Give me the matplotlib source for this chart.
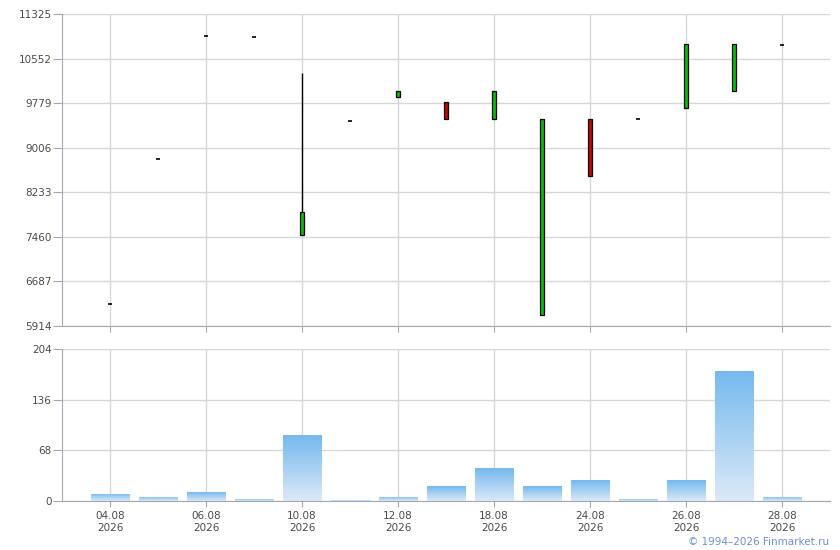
import numpy as np
import matplotlib
matplotlib.use('Agg')
import matplotlib.pyplot as plt
from matplotlib.colors import LinearSegmentedColormap

# торговые сессии (подписи только у каждой второй)
dates = ['04.08', '05.08', '06.08', '07.08', '10.08', '11.08', '12.08', '14.08',
         '18.08', '20.08', '24.08', '25.08', '26.08', '27.08', '28.08']
year = '2026'

opens = [6296, 8805, 10938, 10921, 7488, 9464, 9891, 9794,
         9499, 6100, 9499, 9499, 9690, 9984, 10782]
highs = [6296, 8805, 10938, 10921, 10302, 9464, 9984, 9794,
         9984, 9499, 9499, 9499, 10800, 10800, 10782]
lows = [6296, 8805, 10938, 10921, 7488, 9464, 9891, 9499,
        9499, 6100, 8511, 9499, 9690, 9984, 10782]
closes = [6296, 8805, 10938, 10921, 7892, 9464, 9984, 9499,
          9984, 9499, 8511, 9499, 10800, 10800, 10782]
volumes = [10, 6, 12, 3, 88, 1.5, 6, 20, 44, 20, 28, 3, 28, 175, 6]

price_ticks = [5914, 6687, 7460, 8233, 9006, 9779, 10552, 11325]
vol_ticks = [0, 68, 136, 204]

grid_c = '#d3d7db'
spine_c = '#a4a8b0'
text_c = '#4a4a4a'

fig = plt.figure(figsize=(8.4, 5.5), dpi=100)
ax1 = fig.add_axes([62 / 840, 1 - 326 / 550, 768 / 840, 312 / 550])
ax2 = fig.add_axes([62 / 840, 1 - 501 / 550, 768 / 840, 152 / 550])

x = np.arange(len(dates))

for ax in (ax1, ax2):
    ax.set_xlim(-1, len(dates))
    for s in ('top', 'right'):
        ax.spines[s].set_visible(False)
    for s in ('left', 'bottom'):
        ax.spines[s].set_color(spine_c)
    ax.set_xticks(x[::2])
    ax.grid(True, color=grid_c, linewidth=1)
    ax.set_axisbelow(True)
    ax.tick_params(axis='x', colors=spine_c, length=4, labelcolor=text_c, labelsize=7.5)
    ax.tick_params(axis='y', colors=spine_c, length=6.5, pad=1, labelcolor=text_c, labelsize=7.5)

# свечи
w = 0.07
for i in range(len(dates)):
    o, h, l, c = opens[i], highs[i], lows[i], closes[i]
    if h > max(o, c):
        ax1.vlines(x[i], max(o, c), h, color='black', linewidth=1, zorder=3)
    if l < min(o, c):
        ax1.vlines(x[i], l, min(o, c), color='black', linewidth=1, zorder=3)
    if o == c:
        ax1.hlines(o, x[i] - 0.045, x[i] + 0.045, color='black', linewidth=1.2, zorder=3)
    else:
        col = '#00c400' if c > o else '#d00000'
        ax1.bar(x[i], abs(c - o), bottom=min(o, c), width=w, color=col,
                edgecolor='black', linewidth=0.9, zorder=4)

ax1.set_ylim(price_ticks[0], price_ticks[-1])
ax1.set_yticks(price_ticks)
ax1.set_xticklabels([])

# объёмы с градиентом
cmap = LinearSegmentedColormap.from_list('vol', ['#dce9f7', '#74b9ef'])
grad = np.linspace(0, 1, 256).reshape(-1, 1)
bars = ax2.bar(x, volumes, width=0.8, color='none', zorder=2)
for b in bars:
    x0, y0 = b.get_x(), b.get_y()
    im = ax2.imshow(grad, cmap=cmap, aspect='auto', origin='lower',
                    extent=(x0, x0 + b.get_width(), y0, y0 + b.get_height()), zorder=2)
    im.set_clip_path(b)

ax2.set_xlim(-1, len(dates))
ax2.set_ylim(0, 204)
ax2.set_yticks(vol_ticks)
ax2.set_xticklabels([d + '\n' + year for d in dates[::2]], linespacing=1.25)

fig.text(829 / 840, 1 - 542 / 550, '© 1994–2026 Finmarket.ru', color='#6a8fdb',
         fontsize=7.5, ha='right', va='center')

fig.savefig('out.png', dpi=100)
